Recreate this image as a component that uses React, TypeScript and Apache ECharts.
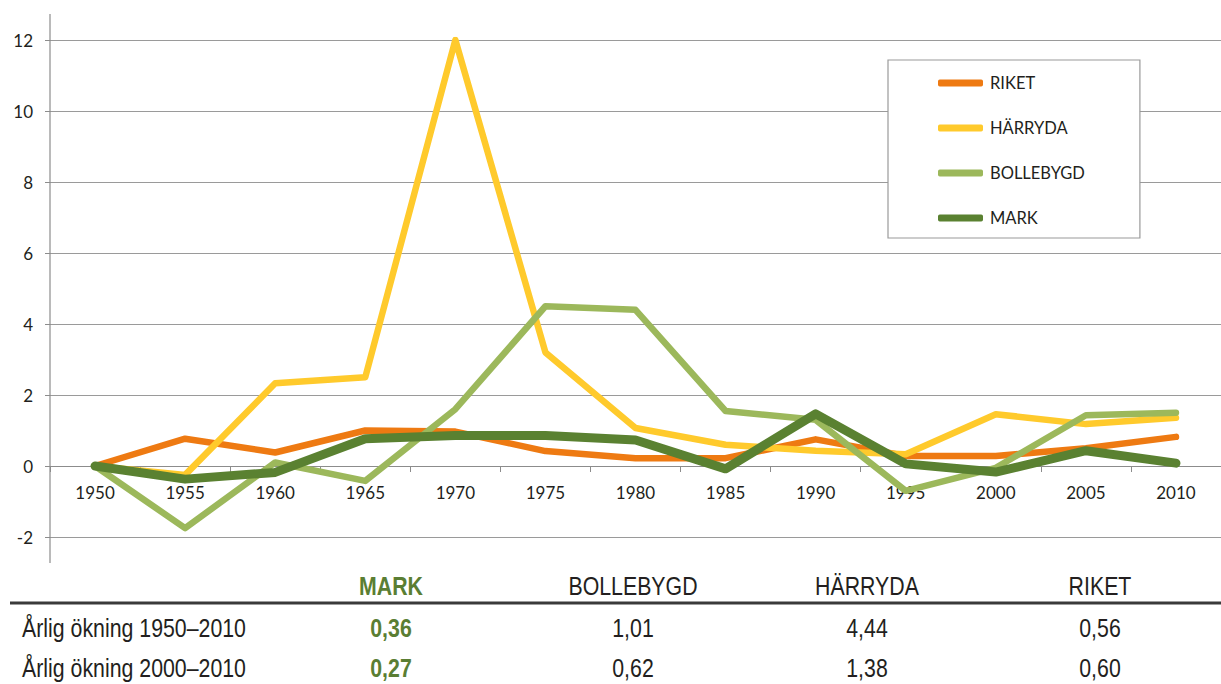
import React, { useEffect, useRef } from "react";
import * as echarts from "echarts";

const years = ["1950", "1955", "1960", "1965", "1970", "1975", "1980", "1985", "1990", "1995", "2000", "2005", "2010"];
const riket = [0, 0.77, 0.38, 1.0, 0.97, 0.42, 0.22, 0.22, 0.75, 0.28, 0.28, 0.5, 0.82];
const harryda = [0, -0.25, 2.33, 2.5, 12.0, 3.2, 1.07, 0.6, 0.43, 0.33, 1.46, 1.18, 1.36];
const bollebygd = [0, -1.75, 0.1, -0.42, 1.6, 4.5, 4.4, 1.55, 1.3, -0.7, -0.05, 1.43, 1.5];
const mark = [0, -0.37, -0.18, 0.77, 0.86, 0.86, 0.73, -0.08, 1.47, 0.06, -0.17, 0.43, 0.08];

const seriesNames = ["RIKET", "HÄRRYDA", "BOLLEBYGD", "MARK"];
const seriesColors = ["#EE7A12", "#FFCA2C", "#9CB85B", "#5A8131"];
const seriesWidths = [6.5, 6.5, 6.5, 9];

const tableHeaders = ["MARK", "BOLLEBYGD", "HÄRRYDA", "RIKET"];
const rowLabels = ["Årlig ökning 1950\u20132010", "Årlig ökning 2000\u20132010"];
const row1Values = ["0,36", "1,01", "4,44", "0,56"];
const row2Values = ["0,27", "0,62", "1,38", "0,60"];

const yTicks = { min: -2, max: 12, interval: 2 };

export default function App() {
  const ref = useRef<HTMLDivElement>(null);
  useEffect(() => {
    if (!ref.current) return;
    const chart = echarts.init(ref.current, null, { renderer: "svg" });
    const allData = [riket, harryda, bollebygd, mark];
    const colCenters = [391, 633, 867, 1100];
    const tableFont = "'Liberation Sans', Arial, sans-serif";
    const textColor = "#231F20";
    const sx = 0.82;
    const gridTop = 40;
    const gridHeight = 497;
    // distance from the grid bottom (y = min) up to the zero line
    const zeroOffset = -gridHeight * (0 - yTicks.min) / (yTicks.max - yTicks.min);
    const graphics: any[] = [
      { type: "line", shape: { x1: 50, y1: 14, x2: 50, y2: 563 }, style: { stroke: "#8C8C8C", lineWidth: 1.2 }, z: 1 },
      { type: "line", shape: { x1: 10, y1: 603, x2: 1221, y2: 603 }, style: { stroke: "#3A3A3A", lineWidth: 3 } },
    ];
    tableHeaders.forEach((h, i) => {
      graphics.push({
        type: "text", x: colCenters[i], y: 586, scaleX: sx,
        style: { text: h, fill: i === 0 ? "#5A7E33" : textColor, font: `${i === 0 ? "bold " : ""}26px ${tableFont}`, textAlign: "center", textVerticalAlign: "middle" },
      });
    });
    const rows = [row1Values, row2Values];
    rowLabels.forEach((lab, r) => {
      const y = r === 0 ? 628 : 668;
      graphics.push({ type: "text", x: 22, y, scaleX: sx, style: { text: lab, fill: textColor, font: `26px ${tableFont}`, textAlign: "left", textVerticalAlign: "middle" } });
      rows[r].forEach((v, i) => {
        graphics.push({
          type: "text", x: colCenters[i], y, scaleX: sx,
          style: { text: v, fill: i === 0 ? "#5A7E33" : textColor, font: `${i === 0 ? "bold " : ""}26px ${tableFont}`, textAlign: "center", textVerticalAlign: "middle" },
        });
      });
    });

    chart.setOption({
      animation: false,
      backgroundColor: "#ffffff",
      grid: { left: 50, top: gridTop, width: 1183, height: gridHeight, containLabel: false },
      legend: {
        orient: "vertical",
        left: 888,
        top: 60,
        padding: [13, 55, 10, 50],
        itemGap: 25,
        itemWidth: 45,
        itemHeight: 7,
        icon: "roundRect",
        backgroundColor: "#ffffff",
        borderColor: "#9A9A9A",
        borderWidth: 1.2,
        borderRadius: 0,
        textStyle: { fontFamily: "Lato", fontSize: 16.5, color: textColor, lineHeight: 20, padding: [0, 0, 0, 2] },
        data: seriesNames,
      },
      xAxis: {
        type: "category",
        data: years,
        boundaryGap: true,
        position: "bottom",
        offset: zeroOffset,
        z: 0,
        axisLine: { onZero: false, lineStyle: { color: "#8C8C8C", width: 1.2 } },
        axisTick: { show: true, length: 6, lineStyle: { color: "#8C8C8C" } },
        axisLabel: { fontFamily: "Lato", fontSize: 17, color: textColor, margin: 18 },
        splitLine: { show: false },
      },
      yAxis: {
        type: "value",
        min: yTicks.min,
        max: yTicks.max,
        interval: yTicks.interval,
        axisLine: { show: false },
        axisTick: { show: true, length: 5, lineStyle: { color: "#8C8C8C" } },
        axisLabel: { fontFamily: "Lato", fontSize: 17, color: textColor, margin: 17 },
        splitLine: { show: true, lineStyle: { color: "#9A9A9A", width: 1.2 } },
      },
      graphic: graphics,
      series: seriesNames.map((name, i) => ({
        name,
        type: "line",
        data: allData[i],
        showSymbol: false,
        symbol: "none",
        color: seriesColors[i],
        lineStyle: { width: seriesWidths[i], color: seriesColors[i], cap: "round", join: "round" },
        z: 3 + i,
      })),
    });
    return () => chart.dispose();
  }, []);
  return <div ref={ref} style={{ position: "fixed", left: 0, top: 0, width: 1221, height: 684 }} />;
}
